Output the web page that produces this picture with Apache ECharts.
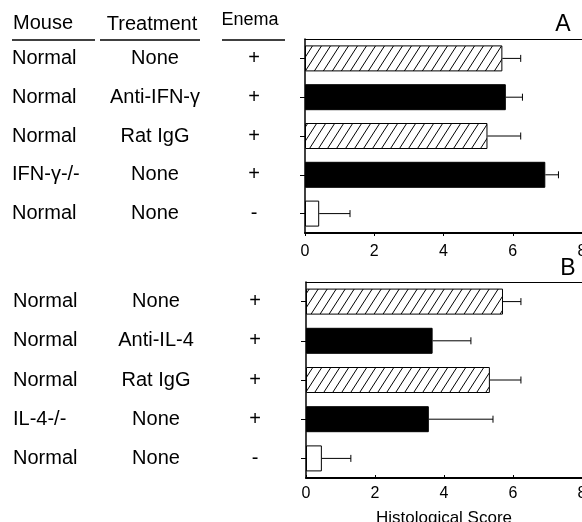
<!DOCTYPE html>
<html>
<head>
<meta charset="utf-8">
<script src="https://cdn.jsdelivr.net/npm/echarts@6/dist/echarts.min.js"></script>
<style>
  html, body { margin: 0; padding: 0; background: #fff; }
  #show_picture { width: 582px; height: 522px; }
</style>
</head>
<body>
<div id="show_picture"></div>
<script>
// panel A
const mouseA = ['Normal', 'Normal', 'Normal', 'IFN-γ-/-', 'Normal'];
const treatA = ['None', 'Anti-IFN-γ', 'Rat IgG', 'None', 'None'];
const enemaA = ['+', '+', '+', '+', '-'];
const meanA = [5.70, 5.80, 5.27, 6.94, 0.41];
const sdA = [0.53, 0.48, 0.96, 0.38, 0.89];

// panel B
const mouseB = ['Normal', 'Normal', 'Normal', 'IL-4-/-', 'Normal'];
const treatB = ['None', 'Anti-IL-4', 'Rat IgG', 'None', 'None'];
const enemaB = ['+', '+', '+', '+', '-'];
const meanB = [5.71, 3.67, 5.33, 3.56, 0.46];
const sdB = [0.52, 1.11, 0.90, 1.86, 0.84];

const xTicks = [0, 2, 4, 6, 8];

// bar fill kind per row (same in both panels)
const kinds = ['hatch', 'solid', 'hatch', 'solid', 'open'];

const FONT = '"Liberation Sans", Arial, Helvetica, sans-serif';

// diagonal hatch pattern
const tile = document.createElement('canvas');
tile.width = 9;
tile.height = 14;
const ctx = tile.getContext('2d');
ctx.fillStyle = '#fff';
ctx.fillRect(0, 0, 9, 14);
ctx.strokeStyle = '#000';
ctx.lineWidth = 1;
for (let o of [-9, 0, 9]) {
    ctx.beginPath();
    ctx.moveTo(o, 14);
    ctx.lineTo(o + 9, 0);
    ctx.stroke();
}

const styles = {
    hatch: { color: { image: tile, repeat: 'repeat' }, borderColor: '#000', borderWidth: 1 },
    solid: { color: '#000', borderColor: '#000', borderWidth: 1 },
    open: { color: '#fff', borderColor: '#000', borderWidth: 1 }
};

let myChart = echarts.init(document.getElementById('show_picture'));

function rowLabel(mouse, treat, enema) {
    return {
        margin: 15,
        fontFamily: FONT,
        fontSize: 20,
        color: '#000',
        formatter: (v, i) => `{m|${mouse[i]}}{t|${treat[i]}}{e|${enema[i]}}`,
        rich: {
            m: { width: 80, align: 'left', fontFamily: FONT, fontSize: 20, color: '#000' },
            t: { width: 126, align: 'center', fontFamily: FONT, fontSize: 20, color: '#000' },
            e: { width: 72, align: 'center', fontFamily: FONT, fontSize: 20, color: '#000' }
        }
    };
}

function errorBars(mean, sd, idx) {
    return {
        type: 'custom',
        xAxisIndex: idx,
        yAxisIndex: idx,
        z: 10,
        data: mean.map((m, i) => [m, i, sd[i]]),
        encode: { x: 0, y: 1 },
        renderItem: (params, api) => {
            const m = api.value(0), y = api.value(1), s = api.value(2);
            const p0 = api.coord([m, y]);
            const p1 = api.coord([m + s, y]);
            const st = { stroke: '#000', lineWidth: 1 };
            return {
                type: 'group',
                children: [
                    { type: 'line', shape: { x1: p0[0], y1: p0[1], x2: p1[0], y2: p1[1] }, style: st },
                    { type: 'line', shape: { x1: p1[0], y1: p1[1] - 3.5, x2: p1[0], y2: p1[1] + 3.5 }, style: st }
                ]
            };
        }
    };
}

function valueAxis(gridIndex, labelMargin, tickInside, name) {
    return {
        type: 'value',
        gridIndex: gridIndex,
        min: xTicks[0],
        max: xTicks[xTicks.length - 1],
        interval: xTicks[1] - xTicks[0],
        splitLine: { show: false },
        axisLine: { show: true, lineStyle: { color: '#000', width: 2 } },
        axisTick: { show: true, inside: tickInside, length: 3, lineStyle: { color: '#000' } },
        axisLabel: { margin: labelMargin, fontFamily: FONT, fontSize: 16, color: '#000' },
        name: name,
        nameLocation: 'middle',
        nameGap: 32,
        nameTextStyle: { fontFamily: FONT, fontSize: 17, color: '#000' }
    };
}

function topLine(gridIndex) {
    return {
        type: 'value',
        gridIndex: gridIndex,
        position: 'top',
        min: 0, max: 8,
        axisLine: { show: true, lineStyle: { color: '#000', width: 1 } },
        axisTick: { show: false },
        axisLabel: { show: false },
        splitLine: { show: false }
    };
}

function catAxis(gridIndex, mouse, treat, enema) {
    return {
        type: 'category',
        gridIndex: gridIndex,
        inverse: true,
        data: mouse.map((_, i) => String(i)),
        axisLine: { show: true, lineStyle: { color: '#000', width: 1.5 } },
        axisTick: { show: true, alignWithLabel: true, length: 5, lineStyle: { color: '#000' } },
        axisLabel: rowLabel(mouse, treat, enema)
    };
}

function bars(mean, idx) {
    return {
        type: 'bar',
        xAxisIndex: idx,
        yAxisIndex: idx,
        barWidth: 26,
        data: mean.map((v, i) => ({ value: v, itemStyle: styles[kinds[i]] }))
    };
}

const headStyle = { fontFamily: FONT, fill: '#000' };

let option = {
    animation: false,
    backgroundColor: '#fff',
    grid: [
        { left: 305, top: 39, right: 0, height: 194, outerBoundsMode: 'none', containLabel: false },
        { left: 306, top: 282, right: 0, height: 196, outerBoundsMode: 'none', containLabel: false }
    ],
    xAxis: [
        valueAxis(0, 11, false, ''),
        valueAxis(1, 8, true, 'Histological Score'),
        topLine(0),
        topLine(1)
    ],
    yAxis: [
        catAxis(0, mouseA, treatA, enemaA),
        catAxis(1, mouseB, treatB, enemaB)
    ],
    series: [
        bars(meanA, 0),
        bars(meanB, 1),
        errorBars(meanA, sdA, 0),
        errorBars(meanB, sdB, 1)
    ],
    graphic: [
        { type: 'text', left: 13, top: 13, style: Object.assign({ text: 'Mouse', fontSize: 20 }, headStyle) },
        { type: 'text', x: 152, y: 24, style: Object.assign({ text: 'Treatment', fontSize: 20, align: 'center', verticalAlign: 'middle' }, headStyle) },
        { type: 'text', x: 250, y: 20, style: Object.assign({ text: 'Enema', fontSize: 18, align: 'center', verticalAlign: 'middle' }, headStyle) },
        { type: 'line', shape: { x1: 12, y1: 40, x2: 95, y2: 40 }, style: { stroke: '#000', lineWidth: 1.5 } },
        { type: 'line', shape: { x1: 100, y1: 40, x2: 200, y2: 40 }, style: { stroke: '#000', lineWidth: 1.5 } },
        { type: 'line', shape: { x1: 222, y1: 40, x2: 285, y2: 40 }, style: { stroke: '#000', lineWidth: 1.5 } },
        { type: 'text', x: 563, y: 25, style: Object.assign({ text: 'A', fontSize: 23, align: 'center', verticalAlign: 'middle' }, headStyle) },
        { type: 'text', x: 568, y: 269, style: Object.assign({ text: 'B', fontSize: 23, align: 'center', verticalAlign: 'middle' }, headStyle) }
    ]
};

option && myChart.setOption(option);
</script>
</body>
</html>
